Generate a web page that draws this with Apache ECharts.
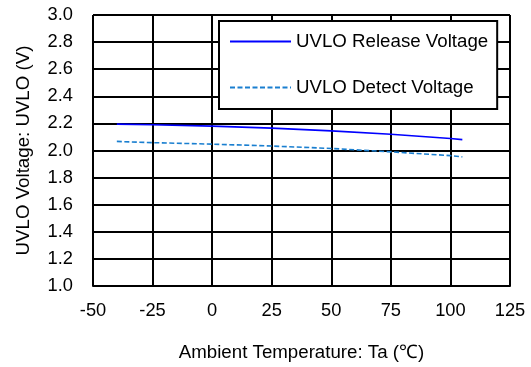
<!DOCTYPE html>
<html>
<head>
<meta charset="utf-8">
<script src="https://cdn.jsdelivr.net/npm/echarts@6/dist/echarts.min.js"></script>
<style>html,body{margin:0;padding:0;background:#fff}#c{width:531px;height:367px}</style>
</head>
<body>
<div id="c"></div>
<script>
const temperatures = [-40, -25, 0, 25, 50, 75, 100, 105];
const releaseVoltage = [2.195, 2.19, 2.18, 2.165, 2.145, 2.12, 2.088, 2.08];
const detectVoltage = [2.067, 2.058, 2.047, 2.033, 2.015, 1.99, 1.962, 1.953];
const seriesNames = ['UVLO Release Voltage', 'UVLO Detect Voltage'];
const xTitle = 'Ambient Temperature: Ta (℃)';
const yTitle = 'UVLO Voltage: UVLO (V)';

const FONT = '"Liberation Sans", Arial, sans-serif';
const chart = echarts.init(document.getElementById('c'), null, {renderer: 'canvas'});
const pairs = arr => temperatures.map((t, i) => [t, arr[i]]);

chart.setOption({
  animation: false,
  backgroundColor: '#fff',
  grid: {left: 93, right: 21, top: 15, bottom: 79, containLabel: false},
  legend: {
    orient: 'vertical',
    left: 219, top: 21,
    padding: [11, 9, 12, 10],
    borderColor: '#000', borderWidth: 2,
    backgroundColor: '#fff',
    itemWidth: 61, itemHeight: 14, itemGap: 27,
    itemStyle: {opacity: 0},
    textStyle: {fontFamily: FONT, fontSize: 18.7, color: '#000'},
    data: seriesNames
  },
  xAxis: {
    type: 'value', min: -50, max: 125, interval: 25,
    name: xTitle, nameLocation: 'middle', nameGap: 57,
    nameTextStyle: {fontFamily: FONT, fontSize: 18.7, color: '#000'},
    axisLine: {show: true, lineStyle: {color: '#000', width: 2}},
    axisTick: {show: false},
    axisLabel: {fontFamily: FONT, fontSize: 18.3, color: '#000', margin: 16},
    splitLine: {show: true, lineStyle: {color: '#000', width: 2}}
  },
  yAxis: {
    type: 'value', min: 1.0, max: 3.0, interval: 0.2,
    name: yTitle, nameLocation: 'middle', nameGap: 60,
    nameTextStyle: {fontFamily: FONT, fontSize: 18.7, color: '#000'},
    axisLine: {show: true, lineStyle: {color: '#000', width: 2}},
    axisTick: {show: false},
    axisLabel: {fontFamily: FONT, fontSize: 18.3, color: '#000', margin: 20,
      formatter: v => v.toFixed(1)},
    splitLine: {show: true, lineStyle: {color: '#000', width: 2}}
  },
  series: [
    {
      name: seriesNames[0], type: 'line', data: pairs(releaseVoltage),
      symbol: 'none', z: 5,
      lineStyle: {color: '#0000ff', width: 1.6, type: 'solid'},
      itemStyle: {color: '#0000ff'}
    },
    {
      name: seriesNames[1], type: 'line', data: pairs(detectVoltage),
      symbol: 'none', z: 5,
      lineStyle: {color: '#1a7fd0', width: 1.6, type: [5, 2.5]},
      itemStyle: {color: '#1a7fd0'}
    }
  ]
});
</script>
</body>
</html>
